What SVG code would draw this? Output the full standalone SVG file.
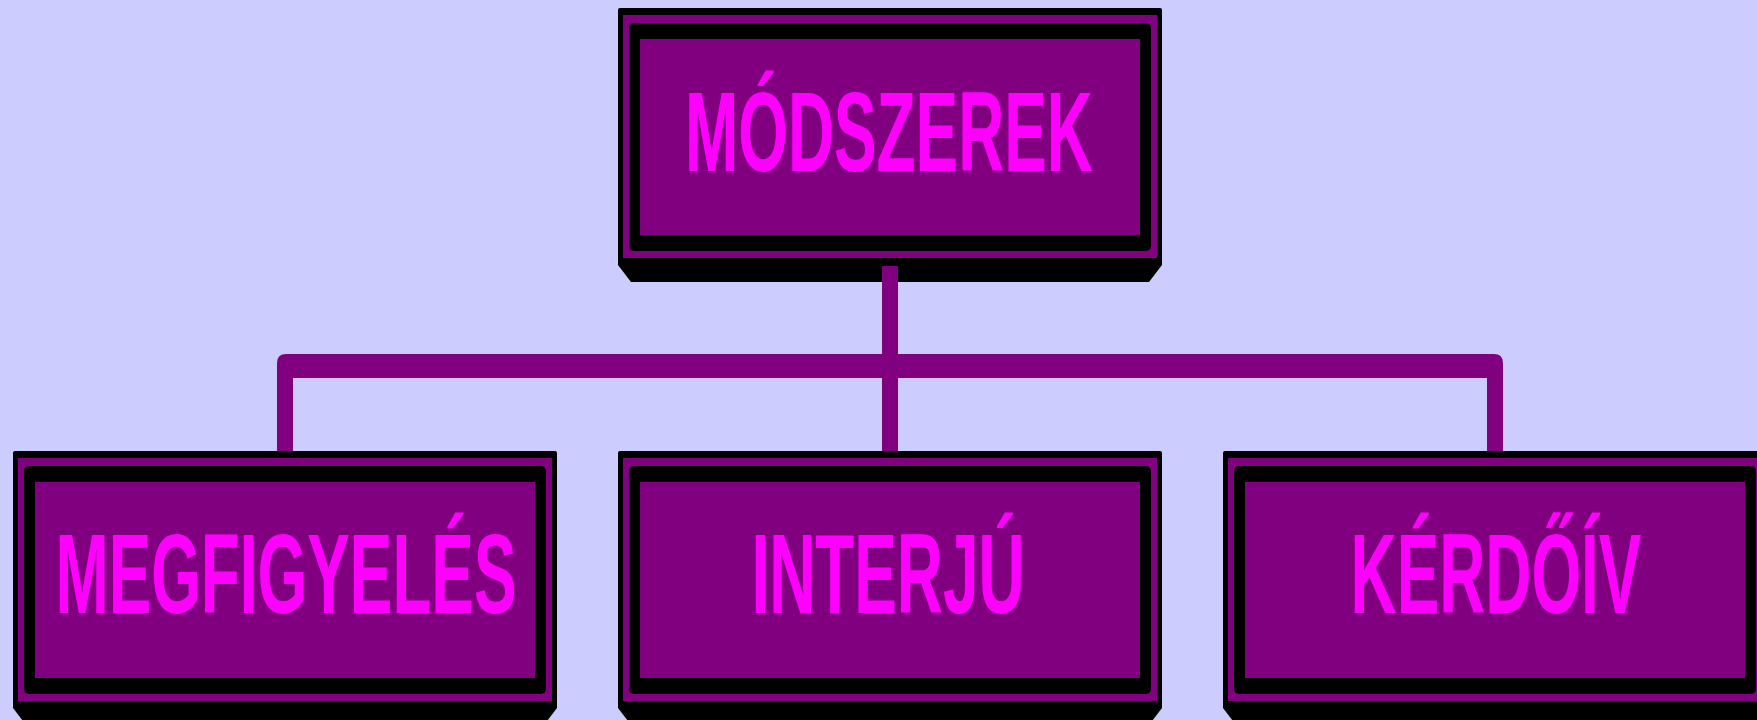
<svg xmlns="http://www.w3.org/2000/svg" xmlns:xlink="http://www.w3.org/1999/xlink" width="1757" height="720" viewBox="0 0 1757 720">
  <style>
    .lbl { font-family: "Liberation Sans", Arial, sans-serif; font-weight: bold; font-size: 114px; fill: #FF00FF; text-anchor: middle; }
    .pur { fill: #800080; }
    .blk { fill: #000000; }
  </style>
  <defs>
    <g id="box">
      <path class="blk" d="M0 2 Q0 0 2 0 H542 Q544 0 544 2 V257 L531 274 H13 L0 257 Z"/>
      <rect class="pur" x="5" y="7" width="534" height="243"/>
      <rect class="blk" x="11" y="15" width="522" height="228" rx="5" ry="5"/>
      <rect class="pur" x="22" y="31" width="500" height="196"/>
    </g>
  </defs>
  <rect x="0" y="0" width="1757" height="720" fill="#CCCCFF"/>

  <g id="node-modszerek">
    <use xlink:href="#box" href="#box" x="618" y="8"/>
    <text class="lbl" transform="translate(889,171) scale(0.56,1)">MÓDSZEREK</text>
  </g>
  <g id="node-megfigyeles">
    <use xlink:href="#box" href="#box" x="13" y="451"/>
    <text class="lbl" transform="translate(286,613) scale(0.56,1)">MEGFIGYELÉS</text>
  </g>
  <g id="node-interju">
    <use xlink:href="#box" href="#box" x="618" y="451"/>
    <text class="lbl" transform="translate(888,613) scale(0.56,1)">INTERJÚ</text>
  </g>
  <g id="node-kerdoiv">
    <use xlink:href="#box" href="#box" x="1223" y="451"/>
    <text class="lbl" transform="translate(1496,613) scale(0.56,1)">KÉRDŐÍV</text>
  </g>

  <g id="connectors">
    <rect class="pur" x="882" y="266" width="16" height="185"/>
    <path class="pur" d="M277 451 V363 Q277 354 286 354 H1494 Q1503 354 1503 363 V451 H1487 V378 H293 V451 Z"/>
  </g>
</svg>
